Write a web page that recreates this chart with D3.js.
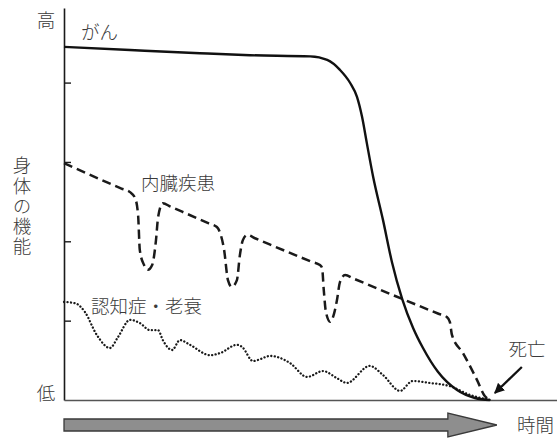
<!DOCTYPE html>
<html>
<head>
<meta charset="utf-8">
<script src="https://cdn.jsdelivr.net/npm/d3@7"></script>
<style>
  body { margin: 0; background: #fff; }
  text { font-family: "Noto Sans CJK JP", "Noto Sans", sans-serif; font-weight: 300; fill: #3a3a3a; }
</style>
</head>
<body>
<div id="chart"></div>
<script>
// 時間 (0 = 開始, 100 = 死亡) と 身体の機能 (0 = 低, ~99 = 高)
const cancerT = [0, 15.5, 31.9, 43.7, 57.8, 61.8, 64.8, 67.2, 68.8, 70.0, 71.1, 72.6, 74.9, 77.0, 79.4, 82.0, 84.3, 87.8, 92.3, 96.5, 100];
const cancerV = [89.0, 88.2, 87.4, 86.9, 86.6, 85.7, 83.2, 79.9, 76.4, 71.3, 64.8, 56.2, 45.4, 34.8, 25.5, 18.1, 13.1, 7.1, 2.5, 0.5, 0];

const organT = [0, 13.5, 15.5, 16.7, 17.4, 17.8, 18.8, 19.7, 20.7, 21.6, 22.1, 23.2,
  25.0, 34.0, 35.9, 36.6, 37.6, 38.5, 39.4, 40.6, 41.3, 42.0, 43.0,
  45.0, 58.0, 60.1, 60.6, 61.0, 61.5, 62.5, 63.4, 64.1, 64.8, 66.0,
  68.0, 87.8, 89.9, 90.6, 91.1, 93.7, 97.0, 98.8, 100];
const organV = [59.7, 53.3, 52.4, 50.9, 46.6, 37.8, 34.0, 32.8, 34.0, 40.3, 46.1, 49.6,
  48.75, 44.5, 43.6, 42.3, 37.8, 30.2, 28.5, 30.2, 36.5, 40.3, 41.6,
  40.7, 34.9, 34.0, 33.3, 27.7, 22.2, 19.7, 21.7, 25.2, 29.7, 31.5,
  30.6, 21.8, 20.9, 19.7, 16.4, 11.8, 5.0, 1.0, 0];

const dementiaT = [0, 2.6, 4.9, 7.7, 10.8, 12.7, 15.5, 17.8, 20.2, 22.1, 23.2, 25.4, 27.2, 29.6, 34.3, 36.6, 40.6, 41.8, 44.4, 45.6, 48.4, 50.2, 53.1, 57.1, 60.8, 64.1, 66.4, 71.8, 74.9, 78.9, 81.9, 85.9, 90.6, 95.3, 100];
const dementiaV = [24.7, 24.4, 22.2, 16.4, 13.1, 15.9, 20.2, 19.4, 17.6, 17.6, 15.1, 12.6, 15.1, 13.9, 11.3, 11.8, 13.9, 13.4, 9.8, 10.1, 11.1, 10.8, 9.3, 5.8, 7.3, 5.5, 4.3, 8.6, 6.3, 2.3, 4.8, 4.3, 3.5, 1.3, 0];

const yTicks = [20, 40, 60, 80];
const seriesNames = ["がん", "内臓疾患", "認知症・老衰"];
const yTopLabel = "高";
const yBottomLabel = "低";
const yTitle = "身体の機能";
const xTitle = "時間";
const deathLabel = "死亡";

const width = 557, height = 438;

const x = d3.scaleLinear().domain([0, 116]).range([64, 558]);
const y = d3.scaleLinear().domain([0, 98.8]).range([400, 8]);

const svg = d3.select("#chart").append("svg")
  .attr("width", width)
  .attr("height", height);

// y軸
svg.append("g")
  .attr("transform", `translate(${x(0)},0)`)
  .call(d3.axisRight(y).tickValues(yTicks).tickSize(7).tickSizeOuter(0).tickFormat(""))
  .call(g => g.select(".domain").attr("stroke", "#1a1a1a").attr("stroke-width", 1.6))
  .call(g => g.selectAll(".tick line").attr("stroke", "#1a1a1a").attr("stroke-width", 1.4));

// x軸 (目盛りなし)
svg.append("g")
  .attr("transform", `translate(0,${y(0)})`)
  .call(d3.axisBottom(x).tickValues([]).tickSizeOuter(0))
  .call(g => g.select(".domain").attr("stroke", "#555").attr("stroke-width", 1.6));

const line = d3.line()
  .x(d => x(d[0]))
  .y(d => y(d[1]))
  .curve(d3.curveMonotoneX);

const zip = (a, b) => a.map((t, i) => [t, b[i]]);

svg.append("path")
  .datum(zip(dementiaT, dementiaV))
  .attr("d", line)
  .attr("fill", "none")
  .attr("stroke", "#1a1a1a")
  .attr("stroke-width", 2.3)
  .attr("stroke-linecap", "round")
  .attr("stroke-dasharray", "0.1 3.4");

svg.append("path")
  .datum(zip(organT, organV))
  .attr("d", line)
  .attr("fill", "none")
  .attr("stroke", "#1a1a1a")
  .attr("stroke-width", 2.5)
  .attr("stroke-dasharray", "9 5");

svg.append("path")
  .datum(zip(cancerT, cancerV))
  .attr("d", line)
  .attr("fill", "none")
  .attr("stroke", "#111")
  .attr("stroke-width", 2.4);

// 系列ラベル
const fs = 18.5;
svg.append("text").attr("x", 81).attr("y", 39).attr("font-size", fs).text(seriesNames[0]);
svg.append("text").attr("x", 141).attr("y", 190).attr("font-size", fs).text(seriesNames[1]);
svg.append("text").attr("x", 91).attr("y", 313).attr("font-size", fs).text(seriesNames[2]);

// 軸ラベル
svg.append("text").attr("x", 46).attr("y", 27).attr("font-size", fs)
  .attr("text-anchor", "middle").text(yTopLabel);
svg.append("text").attr("x", 46).attr("y", 400).attr("font-size", fs)
  .attr("text-anchor", "middle").text(yBottomLabel);

svg.append("text")
  .attr("x", 22)
  .attr("y", 156)
  .attr("font-size", fs)
  .style("writing-mode", "vertical-rl")
  .style("letter-spacing", "1.8px")
  .text(yTitle);

// 時間の矢印
const ax0 = x(0), axEnd = x(100) + 7, headStart = x(100) - 42;
const base = y(0);
svg.append("path")
  .attr("d", d3.line()([
    [ax0, base + 19], [headStart, base + 19], [headStart, base + 13],
    [axEnd, base + 25], [headStart, base + 37], [headStart, base + 31],
    [ax0, base + 31]
  ]) + "Z")
  .attr("fill", "#8e8e8e")
  .attr("stroke", "#3a3a3a")
  .attr("stroke-width", 1.3);

svg.append("text").attr("x", 517).attr("y", 432).attr("font-size", fs).text(xTitle);

// 死亡の矢印
const tipX = x(100) + 5, tipY = base - 7;
const tailX = x(100) + 32, tailY = base - 33;
svg.append("defs").append("marker")
  .attr("id", "head")
  .attr("viewBox", "0 0 10 10")
  .attr("refX", 9).attr("refY", 5)
  .attr("markerWidth", 4.5).attr("markerHeight", 4.5)
  .attr("markerUnits", "strokeWidth")
  .attr("orient", "auto")
  .append("path")
  .attr("d", "M0,0 L10,5 L0,10 Z")
  .attr("fill", "#111");

svg.append("line")
  .attr("x1", tailX).attr("y1", tailY)
  .attr("x2", tipX).attr("y2", tipY)
  .attr("stroke", "#111")
  .attr("stroke-width", 2.3)
  .attr("marker-end", "url(#head)");

svg.append("text").attr("x", 527).attr("y", 356).attr("font-size", fs)
  .attr("text-anchor", "middle").text(deathLabel);
</script>
</body>
</html>
